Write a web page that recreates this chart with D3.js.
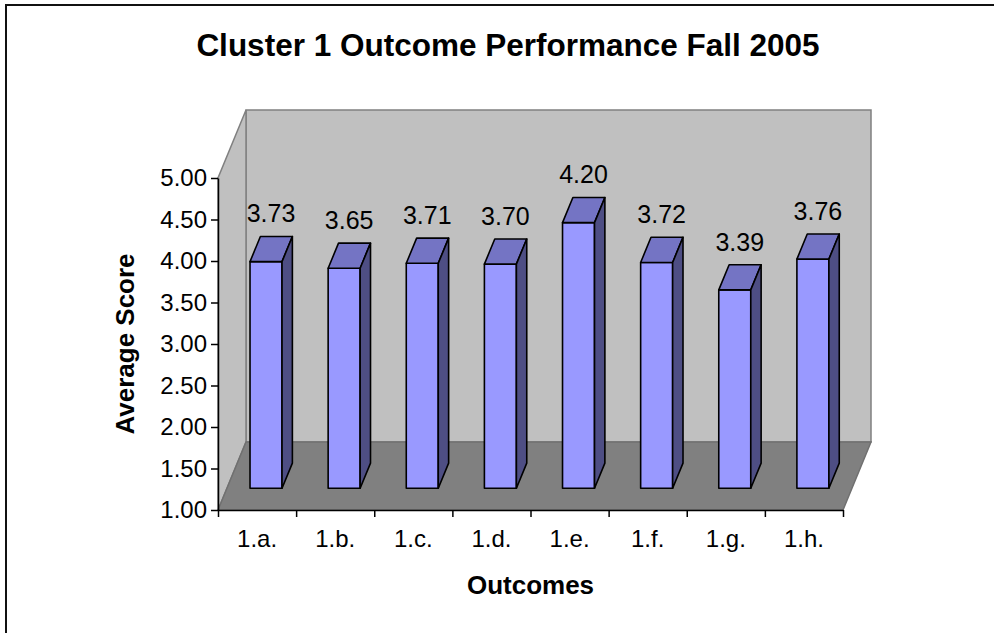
<!DOCTYPE html>
<html>
<head>
<meta charset="utf-8">
<script src="https://cdn.jsdelivr.net/npm/d3@7"></script>
<style>
  body { margin: 0; background: #fff; }
  text { font-family: Arial, "Liberation Sans", sans-serif; }
</style>
</head>
<body>
<svg id="chart" width="994" height="633"></svg>
<script>
// Chart data
const categories = ["1.a.", "1.b.", "1.c.", "1.d.", "1.e.", "1.f.", "1.g.", "1.h."];
const scores = [3.73, 3.65, 3.71, 3.70, 4.20, 3.72, 3.39, 3.76];
const yTicks = [1.00, 1.50, 2.00, 2.50, 3.00, 3.50, 4.00, 4.50, 5.00];

const svg = d3.select("#chart");

// Front plane of the 3D box
const plotLeft = 218, plotRight = 843, plotBottom = 510, plotTop = 178;
// Depth offset of the back wall
const depthX = 28, depthY = -68;

const x = d3.scaleBand()
    .domain(categories)
    .range([plotLeft, plotRight]);

const xEdges = d3.scaleLinear()
    .domain([0, categories.length])
    .range([plotLeft, plotRight]);

const y = d3.scaleLinear()
    .domain([1, 5])
    .range([plotBottom, plotTop]);

// project a point on the front plane back by fraction f of the depth
function proj(px, py, f) {
  return [px + f * depthX, py + f * depthY];
}

// Outer border
svg.append("rect")
    .attr("x", 6).attr("y", 5)
    .attr("width", 1100).attr("height", 800)
    .attr("fill", "none")
    .attr("stroke", "#111")
    .attr("stroke-width", 2);

// Title
svg.append("text")
    .attr("x", 508)
    .attr("y", 56)
    .attr("text-anchor", "middle")
    .attr("font-size", 31.5)
    .attr("font-weight", "bold")
    .text("Cluster 1 Outcome Performance Fall 2005");

// Walls and floor
const poly = pts => pts.map(p => p.join(",")).join(" ");

// back wall
svg.append("polygon")
    .attr("points", poly([proj(plotLeft, y(5), 1), proj(plotRight, y(5), 1), proj(plotRight, y(1), 1), proj(plotLeft, y(1), 1)]))
    .attr("fill", "#c0c0c0")
    .attr("stroke", "#808080")
    .attr("stroke-width", 1.5);

// left wall
svg.append("polygon")
    .attr("points", poly([[plotLeft, y(1)], [plotLeft, y(5)], proj(plotLeft, y(5), 1), proj(plotLeft, y(1), 1)]))
    .attr("fill", "#c0c0c0")
    .attr("stroke", "#808080")
    .attr("stroke-width", 1.5);

// floor
svg.append("polygon")
    .attr("points", poly([[plotLeft, y(1)], proj(plotLeft, y(1), 1), proj(plotRight, y(1), 1), [plotRight, y(1)]]))
    .attr("fill", "#808080")
    .attr("stroke", "#707070")
    .attr("stroke-width", 1.5);

// Bars
const barHalf = 16;
const f1 = 0.32, f2 = 0.69;

const bars = svg.append("g")
  .selectAll("g")
  .data(categories.map((c, i) => ({ cat: c, value: scores[i] })))
  .enter().append("g");

bars.each(function(d) {
  const g = d3.select(this);
  const cx = x(d.cat) + x.bandwidth() / 2;
  const x0 = cx - barHalf, x1 = cx + barHalf;
  const yb = y(1), yt = y(d.value);

  // front
  g.append("polygon")
      .attr("points", poly([proj(x0, yb, f1), proj(x0, yt, f1), proj(x1, yt, f1), proj(x1, yb, f1)]))
      .attr("fill", "#9999ff");
  // top
  g.append("polygon")
      .attr("points", poly([proj(x0, yt, f1), proj(x0, yt, f2), proj(x1, yt, f2), proj(x1, yt, f1)]))
      .attr("fill", "#7474c4");
  // side
  g.append("polygon")
      .attr("points", poly([proj(x1, yb, f1), proj(x1, yt, f1), proj(x1, yt, f2), proj(x1, yb, f2)]))
      .attr("fill", "#4e4e84");
  // outlines
  g.selectAll("polygon")
      .attr("stroke", "#000")
      .attr("stroke-width", 1.6)
      .attr("stroke-linejoin", "round");

  // value label
  const lp = proj(cx, yt, 0.5);
  g.append("text")
      .attr("x", lp[0])
      .attr("y", lp[1] - 27)
      .attr("text-anchor", "middle")
      .attr("font-size", 25)
      .text(d.value.toFixed(2));
});

// Y axis
svg.append("g")
    .attr("transform", "translate(" + plotLeft + ",0)")
    .call(d3.axisLeft(y)
      .tickValues(yTicks)
      .tickFormat(d3.format(".2f"))
      .tickSize(7)
      .tickSizeOuter(0)
      .tickPadding(4))
    .call(g => g.selectAll("text").attr("font-size", 24).attr("font-family", null).attr("fill", "#000"))
    .call(g => g.selectAll("line, path").attr("stroke", "#000").attr("stroke-width", 1.5));

// X axis ticks at category edges
svg.append("g")
    .attr("transform", "translate(0," + plotBottom + ")")
    .call(d3.axisBottom(xEdges)
      .tickValues(d3.range(categories.length + 1))
      .tickFormat("")
      .tickSize(7)
      .tickSizeOuter(0))
    .call(g => g.selectAll("line, path").attr("stroke", "#000").attr("stroke-width", 1.5));

// X axis labels
svg.append("g")
    .attr("transform", "translate(0," + plotBottom + ")")
    .call(d3.axisBottom(x).tickSize(0).tickPadding(20))
    .call(g => g.select(".domain").remove())
    .call(g => g.selectAll("text").attr("font-size", 24).attr("font-family", null).attr("fill", "#000"));

// Axis titles
svg.append("text")
    .attr("x", (plotLeft + plotRight) / 2)
    .attr("y", 594)
    .attr("text-anchor", "middle")
    .attr("font-size", 26)
    .attr("font-weight", "bold")
    .text("Outcomes");

svg.append("text")
    .attr("transform", "translate(134," + (plotTop + plotBottom) / 2 + ") rotate(-90)")
    .attr("text-anchor", "middle")
    .attr("font-size", 26)
    .attr("font-weight", "bold")
    .text("Average Score");
</script>
</body>
</html>
